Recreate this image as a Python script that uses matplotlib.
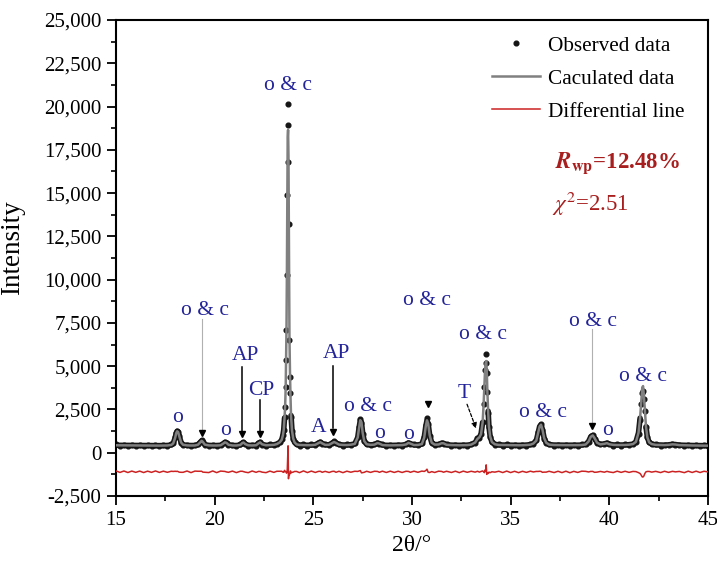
import matplotlib
matplotlib.use('AGG')

import numpy as np
import matplotlib.pyplot as plt
from matplotlib.ticker import FuncFormatter, MultipleLocator, AutoMinorLocator

plt.rcParams['font.family'] = ['Liberation Serif', 'DejaVu Serif']
plt.rcParams['mathtext.fontset'] = 'stix'

# 2theta positions (deg), observed and calculated intensities
two_theta = [
    15.0, 15.2, 15.4, 15.6, 15.8, 16.0, 16.2, 16.4, 16.6, 16.8, 17.0, 17.2, 17.4, 17.6,
    17.8, 17.9, 18.0, 18.05, 18.1, 18.15, 18.2, 18.3, 18.4, 18.6, 18.8, 19.0,
    19.15, 19.28, 19.34, 19.4, 19.5, 19.7, 19.9, 20.1, 20.3,
    20.45, 20.52, 20.6, 20.7, 20.9, 21.1, 21.3, 21.4, 21.46, 21.55, 21.7, 21.9,
    22.1, 22.22, 22.3, 22.4, 22.6, 22.8, 23.0, 23.15, 23.3, 23.4,
    23.46, 23.5, 23.54, 23.57, 23.6, 23.62, 23.64, 23.66, 23.68, 23.7, 23.72,
    23.74, 23.76, 23.79, 23.82, 23.84, 23.87, 23.92, 23.98, 24.05, 24.15,
    24.3, 24.5, 24.7, 24.9, 25.1, 25.25, 25.35, 25.45, 25.6, 25.8, 25.95, 26.05, 26.15,
    26.3, 26.5, 26.7, 26.9, 27.1, 27.25, 27.32, 27.38, 27.44, 27.5, 27.58, 27.7,
    27.9, 28.1, 28.25, 28.35, 28.5, 28.7, 28.9, 29.1, 29.3, 29.5, 29.7, 29.82, 29.92,
    30.1, 30.3, 30.5, 30.62, 30.7, 30.76, 30.82, 30.9, 31.0, 31.15, 31.35, 31.5, 31.6,
    31.75, 32.0, 32.2, 32.4, 32.6, 32.8, 33.0, 33.2, 33.32, 33.42, 33.5, 33.58,
    33.63, 33.67, 33.7, 33.73, 33.76, 33.79, 33.82, 33.86, 33.9, 33.96, 34.05, 34.2,
    34.4, 34.6, 34.8, 35.0, 35.2, 35.4, 35.6, 35.8, 36.0, 36.15, 36.3, 36.4, 36.47,
    36.54, 36.61, 36.7, 36.8, 36.95, 37.2, 37.4, 37.6, 37.8, 38.0, 38.2, 38.4, 38.6,
    38.8, 38.95, 39.06, 39.16, 39.25, 39.38, 39.55, 39.75, 39.88, 40.0, 40.2, 40.4,
    40.6, 40.8, 41.0, 41.2, 41.35, 41.48, 41.56, 41.62, 41.67, 41.71, 41.75, 41.8,
    41.86, 41.93, 42.02, 42.15, 42.35, 42.6, 42.8, 43.0, 43.2, 43.35, 43.55, 43.8,
    44.0, 44.2, 44.4, 44.6, 44.8, 45.0,
]
observed = [
    480, 390, 470, 380, 460, 385, 455, 370, 450, 380, 460, 375, 450, 390,
    480, 560, 900, 1150, 1270, 1200, 960, 560, 430, 470, 370, 460,
    490, 640, 720, 610, 440, 380, 465, 370, 470,
    570, 620, 560, 430, 460, 370, 480, 590, 600, 480, 380, 465,
    400, 560, 620, 470, 380, 480, 420, 530, 630, 780,
    1000, 1300, 2080, 2660, 3810, 5350, 7070, 10250, 14900, 18950, 20150,
    16800, 13200, 6510, 4390, 3450, 2080, 1250, 800, 620, 500,
    400, 490, 390, 480, 420, 570, 640, 510, 480, 420, 580, 650, 540,
    500, 400, 480, 440, 540, 900, 1500, 1950, 1700, 1100, 650, 520,
    420, 500, 580, 500, 480, 390, 460, 390, 460, 400, 510, 590, 500,
    480, 420, 540, 900, 1600, 2020, 1650, 950, 590, 430, 510, 570, 520,
    490, 400, 470, 380, 470, 410, 500, 570, 830, 880, 1100, 1800,
    2800, 3800, 4800, 5200, 5700, 4600, 3500, 2300, 1500, 900, 620, 470,
    480, 400, 480, 390, 460, 380, 460, 410, 500, 520, 720, 1200, 1550,
    1640, 1320, 820, 560, 500, 400, 470, 390, 470, 380, 460, 400, 480,
    500, 640, 940, 1020, 820, 560, 500, 490, 580, 480, 410, 480,
    410, 480, 430, 520, 640, 1100, 1900, 2800, 3450, 3550, 3100, 2400,
    1500, 900, 620, 480, 480, 400, 470, 420, 510, 470, 460, 380,
    460, 380, 450, 370, 440, 400,
]
calculated = [
    430, 428, 425, 423, 420, 418, 416, 415, 414, 413, 412, 412, 414, 420,
    450, 540, 870, 1130, 1240, 1190, 980, 590, 460, 425, 418, 420,
    460, 610, 690, 630, 470, 425, 418, 418, 430,
    540, 600, 570, 460, 420, 418, 450, 560, 590, 500, 430, 420,
    432, 540, 600, 490, 430, 440, 455, 500, 600, 750,
    1020, 1330, 2000, 2650, 3800, 5350, 7150, 10300, 14750, 18200, 18650,
    17200, 13400, 6700, 4450, 3400, 2150, 1280, 820, 600, 480,
    450, 440, 435, 440, 460, 550, 610, 540, 455, 460, 560, 620, 570,
    470, 450, 445, 465, 510, 880, 1450, 1880, 1760, 1150, 680, 490,
    455, 470, 560, 530, 445, 430, 425, 428, 430, 440, 480, 570, 530,
    445, 450, 500, 880, 1530, 1870, 1680, 990, 580, 470, 475, 550, 545,
    460, 440, 435, 430, 432, 440, 470, 590, 800, 900, 1080, 1750,
    2800, 3850, 4700, 5150, 5300, 4750, 3550, 2400, 1520, 950, 620, 490,
    450, 445, 440, 435, 432, 430, 432, 445, 465, 530, 700, 1180, 1520,
    1620, 1350, 840, 580, 470, 445, 440, 438, 436, 435, 435, 438, 445,
    475, 650, 920, 1000, 850, 580, 480, 515, 555, 490, 455, 445,
    445, 450, 465, 500, 630, 1150, 2000, 3000, 3750, 3850, 3350, 2500,
    1500, 880, 600, 500, 455, 445, 440, 455, 485, 475, 440, 430,
    425, 420, 415, 412, 410, 408,
]
diff_offset = -1100

two_theta = np.asarray(two_theta)
observed = np.asarray(observed)
calculated = np.asarray(calculated)
difference = observed - calculated + diff_offset

blue = '#24249a'
red_line = '#cc2222'
red_text = '#a81e1e'

fig = plt.figure(figsize=(7.17, 5.65), dpi=100)
ax = fig.add_axes([0.1618, 0.1221, 0.8256, 0.8425])

# the dense observed points form a dark rim round the fit; on the tall
# steep flanks they separate, so the rim stops there
rim = np.where(calculated > 2400, np.nan, calculated)
ax.plot(two_theta, rim, color='#1a1a1a', lw=4.0, zorder=1.9,
        solid_joinstyle='round', solid_capstyle='round')
ax.plot(two_theta, observed, linestyle='none', marker='o', ms=3.4,
        color='#151515', label='Observed data', zorder=2)
ax.plot(two_theta, calculated, color='#808080', lw=1.8,
        label='Caculated data', zorder=3)
ax.plot(two_theta, difference, color=red_line, lw=1.1,
        label='Differential line', zorder=3)

# phase labels
label_kw = dict(color=blue, fontsize=15.5, ha='center', va='baseline', zorder=5)
peak_labels = [
    ('o & c', 23.72, 20950), ('o & c', 19.51, 7950), ('AP', 21.54, 5350),
    ('CP', 22.38, 3330), ('o', 18.11, 1790), ('o', 20.54, 1020),
    ('A', 25.25, 1210), ('AP', 26.18, 5450), ('o & c', 27.77, 2430),
    ('o', 28.35, 830), ('o', 29.82, 770), ('o & c', 30.75, 8530),
    ('T', 32.64, 3140), ('o & c', 33.62, 6550), ('o & c', 36.63, 2040),
    ('o & c', 39.19, 7340), ('o', 39.9, 1020), ('o & c', 41.73, 4140),
]
for txt, x, y in peak_labels:
    ax.text(x, y, txt, **label_kw)

# pointer lines with triangle heads
pointers = [
    (19.34, 7700, 1120, '#b0b0b0', 0.8),
    (21.40, 4930, 1080, 'black', 1.1),
    (22.30, 3040, 1080, 'black', 1.1),
    (26.01, 5010, 1210, 'black', 1.1),
    (39.11, 7150, 1550, '#b0b0b0', 0.8),
]
for x, y0, y1, c, lw in pointers:
    ax.plot([x, x], [y0, y1 + 200], color=c, lw=lw, zorder=4)
    ax.plot(x, y1, marker='v', ms=5, color='black', zorder=4)
ax.plot(30.8, 2810, marker='v', ms=5, color='black', zorder=4)

ax.annotate('', xy=(33.3, 1250), xytext=(32.74, 2950),
            arrowprops=dict(arrowstyle='-|>', color='black', lw=0.9,
                            linestyle=(0, (2.5, 1.5)), mutation_scale=8),
            zorder=4)

# refinement figures of merit
ax.text(37.25, 16750, r'$\mathbfit{R}_{\mathbf{wp}}$=12.48%', color=red_text,
        fontsize=16.5, fontweight='bold', va='center', ha='left')
ax.text(37.12, 14400, r'$\mathit{\chi}^{2}$=2.51', color=red_text,
        fontsize=16.5, va='center', ha='left')

leg = ax.legend(loc='upper right', bbox_to_anchor=(0.975, 0.985), frameon=False,
                fontsize=15.3, handlelength=2.26, handletextpad=0.38,
                labelspacing=0.62, borderaxespad=0)

ax.set_xlim(15, 45)
ax.set_ylim(-2500, 25000)
ax.xaxis.set_major_locator(MultipleLocator(5))
ax.xaxis.set_minor_locator(AutoMinorLocator(2))
ax.yaxis.set_major_locator(MultipleLocator(2500))
ax.yaxis.set_minor_locator(AutoMinorLocator(2))
ax.yaxis.set_major_formatter(FuncFormatter(lambda v, p: f'{v:,.0f}'))

ax.tick_params(which='major', direction='out', length=6.5, width=1.3,
               labelsize=15, pad=4)
ax.tick_params(which='minor', direction='out', length=3.5, width=1.2)
for sp in ax.spines.values():
    sp.set_linewidth(1.5)

ax.set_xlabel('2θ/°', fontsize=17, labelpad=4)
ax.set_ylabel('Intensity', fontsize=19.5)
ax.yaxis.set_label_coords(-0.154, 0.521)

fig.savefig('out.png', dpi=100)
